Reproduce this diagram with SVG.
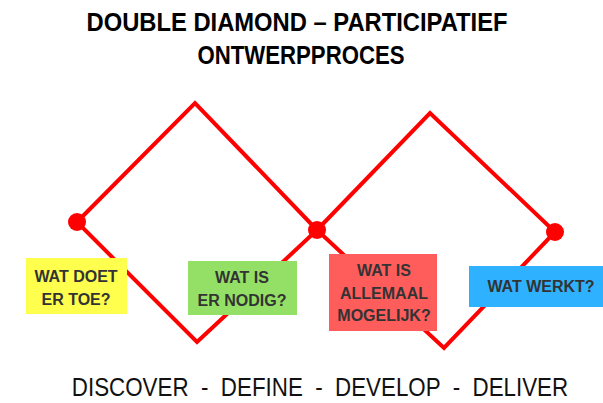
<svg xmlns="http://www.w3.org/2000/svg" width="603" height="403" viewBox="0 0 603 403">
<style>
.title{font-family:"Liberation Sans",Arial,sans-serif;font-weight:bold;font-size:25px;fill:#000;text-anchor:middle}
.lbl{font-family:"Liberation Sans",Arial,sans-serif;font-weight:bold;font-size:16px;fill:#333;text-anchor:middle}
.foot{font-family:"Liberation Sans",Arial,sans-serif;font-size:26px;fill:#111;text-anchor:middle;white-space:pre}
.line{fill:none;stroke:#ff0000;stroke-width:4;stroke-linejoin:miter}
.dot{fill:#ff0000}
</style>
<rect width="603" height="403" fill="#fff"/>
<text class="title" x="297" y="31" textLength="421" lengthAdjust="spacingAndGlyphs">DOUBLE DIAMOND – PARTICIPATIEF</text>
<text class="title" x="301" y="64" textLength="207" lengthAdjust="spacingAndGlyphs">ONTWERPPROCES</text>
<g id="connectors">
<polygon class="line" points="77,222 195,103 317,230 197,342"/>
<polygon class="line" points="317,230 430,113 555,232 444,348"/>
</g>
<g id="dot-left"><circle class="dot" cx="77" cy="222" r="9"/></g>
<g id="dot-mid"><circle class="dot" cx="317" cy="230" r="9"/></g>
<g id="dot-right"><circle class="dot" cx="555" cy="232" r="9"/></g>
<g id="discover">
<rect x="26" y="258" width="101" height="56" fill="#ffff4d"/>
<text class="lbl" x="76" y="282">WAT DOET</text>
<text class="lbl" x="76" y="305">ER TOE?</text>
</g>
<g id="define">
<rect x="188" y="261" width="109" height="54" fill="#94e066"/>
<text class="lbl" x="242" y="283">WAT IS</text>
<text class="lbl" x="242" y="306">ER NODIG?</text>
</g>
<g id="develop">
<rect x="329" y="254" width="108" height="77" fill="#ff5c5c"/>
<text class="lbl" x="384" y="276">WAT IS</text>
<text class="lbl" x="384" y="299">ALLEMAAL</text>
<text class="lbl" x="384" y="321">MOGELIJK?</text>
</g>
<g id="deliver">
<rect x="469" y="266" width="134" height="41" fill="#2eb2ff"/>
<text class="lbl" x="541" y="292">WAT WERKT?</text>
</g>
<text class="foot" transform="translate(320,396) scale(0.86,1)" x="0" y="0">DISCOVER  -  DEFINE  -  DEVELOP  -  DELIVER</text>
</svg>
